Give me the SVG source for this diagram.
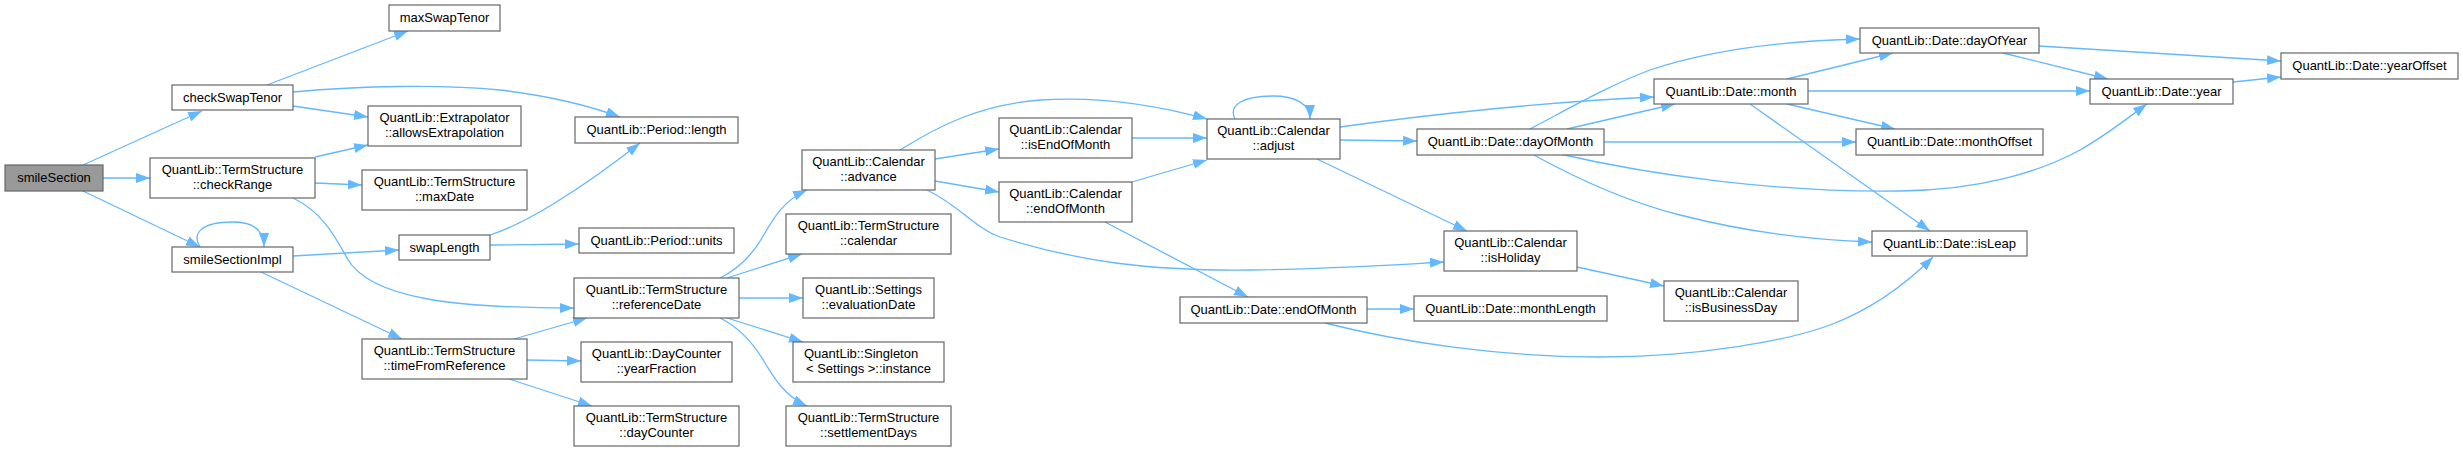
<svg xmlns="http://www.w3.org/2000/svg" width="2463" height="451" viewBox="0 0 2463 451">
<style>
.n rect{fill:#fff;stroke:#666;stroke-width:1.2}
.n.root rect{fill:#999}
.n text{font-family:"Liberation Sans",Arial,sans-serif;font-size:13px;fill:#000;text-anchor:middle}
.e path{fill:none;stroke:#63b8ff;stroke-width:1.3;marker-end:url(#ah)}
</style>
<defs>
<marker id="ah" markerUnits="userSpaceOnUse" markerWidth="14" markerHeight="10" refX="14" refY="5" orient="auto">
<path d="M0,0 L14,5 L0,10 z" fill="#63b8ff" stroke="none"/>
</marker>
</defs>
<rect width="2463" height="451" fill="#fff"/>
<g id="connectors" class="e">
<path d="M83,165 L202,111"/>
<path d="M103,178 L150,178"/>
<path d="M83,191 L200,247"/>
<path d="M200,247 C192,234 200,222 233,222 C252,222 264,229 264,247"/>
<path d="M267,85 L408,31"/>
<path d="M293,92 C360,86 440,84 500,90 C550,96 590,106 620,117"/>
<path d="M293,106 L368,117"/>
<path d="M315,157 L368,145"/>
<path d="M315,183 L362,185"/>
<path d="M293,198 C322,212 335,236 347,258 C370,300 460,308 574,308"/>
<path d="M293,256 L399,250"/>
<path d="M261,272 L402,339"/>
<path d="M490,235 C525,224 580,190 640,143"/>
<path d="M490,245 L579,244"/>
<path d="M514,339 L587,318"/>
<path d="M527,360 L581,361"/>
<path d="M509,379 L592,406"/>
<path d="M720,278 C740,268 752,255 762,238 C775,215 785,200 807,190"/>
<path d="M727,278 L802,254"/>
<path d="M739,298 L803,298"/>
<path d="M727,318 L803,342"/>
<path d="M720,318 C740,328 752,342 762,358 C775,380 785,396 807,406"/>
<path d="M935,159 L999,149"/>
<path d="M935,181 L999,192"/>
<path d="M900,150 C940,125 980,105 1040,100 C1100,96 1160,106 1207,119"/>
<path d="M927,190 C960,206 975,228 1000,237 C1080,262 1150,271 1250,270 C1330,269 1390,265 1444,262"/>
<path d="M1132,138 L1207,138"/>
<path d="M1132,182 L1207,160"/>
<path d="M1105,222 L1248,297"/>
<path d="M1235,119 C1228,105 1243,96 1273,96 C1295,96 1310,104 1310,119"/>
<path d="M1340,140 L1417,141"/>
<path d="M1317,159 L1467,231"/>
<path d="M1340,127 C1440,113 1560,101 1654,97"/>
<path d="M1530,129 C1570,108 1610,85 1650,70 C1710,50 1780,41 1860,39"/>
<path d="M1567,129 L1675,104"/>
<path d="M1604,142 L1856,142"/>
<path d="M1560,154 C1650,175 1780,193 1900,191 C1980,190 2040,172 2080,150 C2105,136 2125,120 2147,104"/>
<path d="M1532,154 C1570,175 1620,200 1680,215 C1750,233 1810,240 1872,242"/>
<path d="M1787,79 L1893,53"/>
<path d="M1808,91 L2090,91"/>
<path d="M1787,104 L1895,129"/>
<path d="M1750,104 L1930,231"/>
<path d="M2039,46 L2281,61"/>
<path d="M2003,53 L2108,79"/>
<path d="M2233,82 L2281,77"/>
<path d="M1577,267 L1664,286"/>
<path d="M1367,309 L1414,309"/>
<path d="M1325,323 C1400,342 1500,357 1600,357 C1700,357 1790,340 1830,325 C1870,310 1905,285 1933,257"/>
</g>
<g id="n0" class="n root"><rect x="5" y="165" width="98" height="26"/><text x="54" y="182">smileSection</text></g>
<g id="n1" class="n"><rect x="172" y="85" width="121" height="25"/><text x="232.5" y="102">checkSwapTenor</text></g>
<g id="n2" class="n"><rect x="389" y="5" width="111" height="26"/><text x="444.5" y="22">maxSwapTenor</text></g>
<g id="n3" class="n"><rect x="368" y="106" width="153" height="40"/><text x="444.5" y="122">QuantLib::Extrapolator</text><text x="444.5" y="137">::allowsExtrapolation</text></g>
<g id="n4" class="n"><rect x="150" y="158" width="165" height="40"/><text x="232.5" y="174">QuantLib::TermStructure</text><text x="232.5" y="189">::checkRange</text></g>
<g id="n5" class="n"><rect x="362" y="170" width="165" height="40"/><text x="444.5" y="186">QuantLib::TermStructure</text><text x="444.5" y="201">::maxDate</text></g>
<g id="n6" class="n"><rect x="172" y="247" width="121" height="25"/><text x="232.5" y="264">smileSectionImpl</text></g>
<g id="n7" class="n"><rect x="399" y="235" width="91" height="25"/><text x="444.5" y="252">swapLength</text></g>
<g id="n8" class="n"><rect x="362" y="339" width="165" height="40"/><text x="444.5" y="355">QuantLib::TermStructure</text><text x="444.5" y="370">::timeFromReference</text></g>
<g id="n9" class="n"><rect x="575" y="117" width="163" height="26"/><text x="656.5" y="134">QuantLib::Period::length</text></g>
<g id="n10" class="n"><rect x="579" y="228" width="155" height="25"/><text x="656.5" y="245">QuantLib::Period::units</text></g>
<g id="n11" class="n"><rect x="574" y="278" width="165" height="40"/><text x="656.5" y="294">QuantLib::TermStructure</text><text x="656.5" y="309">::referenceDate</text></g>
<g id="n12" class="n"><rect x="581" y="342" width="151" height="40"/><text x="656.5" y="358">QuantLib::DayCounter</text><text x="656.5" y="373">::yearFraction</text></g>
<g id="n13" class="n"><rect x="574" y="406" width="165" height="40"/><text x="656.5" y="422">QuantLib::TermStructure</text><text x="656.5" y="437">::dayCounter</text></g>
<g id="n14" class="n"><rect x="802" y="150" width="133" height="40"/><text x="868.5" y="166">QuantLib::Calendar</text><text x="868.5" y="181">::advance</text></g>
<g id="n15" class="n"><rect x="786" y="214" width="165" height="40"/><text x="868.5" y="230">QuantLib::TermStructure</text><text x="868.5" y="245">::calendar</text></g>
<g id="n16" class="n"><rect x="803" y="278" width="131" height="40"/><text x="868.5" y="294">QuantLib::Settings</text><text x="868.5" y="309">::evaluationDate</text></g>
<g id="n17" class="n"><rect x="793" y="342" width="151" height="40"/><text x="804" y="358" style="text-anchor:start">QuantLib::Singleton</text><text x="868.5" y="373">&lt; Settings &gt;::instance</text></g>
<g id="n18" class="n"><rect x="786" y="406" width="165" height="40"/><text x="868.5" y="422">QuantLib::TermStructure</text><text x="868.5" y="437">::settlementDays</text></g>
<g id="n19" class="n"><rect x="999" y="118" width="133" height="40"/><text x="1065.5" y="134">QuantLib::Calendar</text><text x="1065.5" y="149">::isEndOfMonth</text></g>
<g id="n20" class="n"><rect x="999" y="182" width="133" height="40"/><text x="1065.5" y="198">QuantLib::Calendar</text><text x="1065.5" y="213">::endOfMonth</text></g>
<g id="n21" class="n"><rect x="1207" y="119" width="133" height="40"/><text x="1273.5" y="135">QuantLib::Calendar</text><text x="1273.5" y="150">::adjust</text></g>
<g id="n22" class="n"><rect x="1417" y="129" width="187" height="26"/><text x="1510.5" y="146">QuantLib::Date::dayOfMonth</text></g>
<g id="n23" class="n"><rect x="1444" y="231" width="133" height="40"/><text x="1510.5" y="247">QuantLib::Calendar</text><text x="1510.5" y="262">::isHoliday</text></g>
<g id="n24" class="n"><rect x="1180" y="297" width="187" height="26"/><text x="1273.5" y="314">QuantLib::Date::endOfMonth</text></g>
<g id="n25" class="n"><rect x="1414" y="296" width="193" height="25"/><text x="1510.5" y="313">QuantLib::Date::monthLength</text></g>
<g id="n26" class="n"><rect x="1654" y="79" width="154" height="25"/><text x="1731" y="96">QuantLib::Date::month</text></g>
<g id="n27" class="n"><rect x="1860" y="28" width="179" height="25"/><text x="1949.5" y="45">QuantLib::Date::dayOfYear</text></g>
<g id="n28" class="n"><rect x="1856" y="129" width="187" height="26"/><text x="1949.5" y="146">QuantLib::Date::monthOffset</text></g>
<g id="n29" class="n"><rect x="1872" y="231" width="155" height="25"/><text x="1949.5" y="248">QuantLib::Date::isLeap</text></g>
<g id="n30" class="n"><rect x="1664" y="281" width="134" height="40"/><text x="1731" y="297">QuantLib::Calendar</text><text x="1731" y="312">::isBusinessDay</text></g>
<g id="n31" class="n"><rect x="2090" y="79" width="143" height="25"/><text x="2161.5" y="96">QuantLib::Date::year</text></g>
<g id="n32" class="n"><rect x="2281" y="53" width="177" height="26"/><text x="2369.5" y="70">QuantLib::Date::yearOffset</text></g>
</svg>
